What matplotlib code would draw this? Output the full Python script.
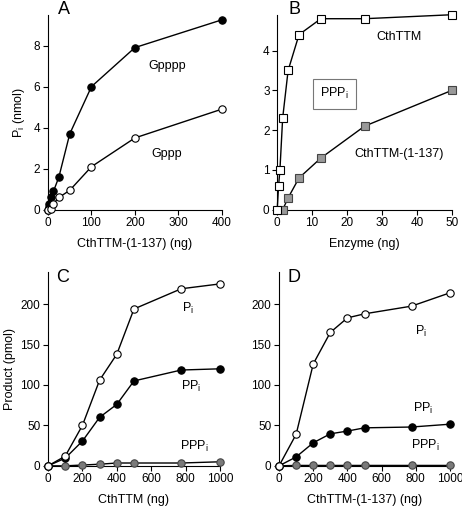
import matplotlib
matplotlib.use('Agg')
import matplotlib.pyplot as plt

plt.rcParams['font.family'] = ['Liberation Sans', 'DejaVu Sans']
plt.rcParams['mathtext.fontset'] = 'custom'
plt.rcParams['mathtext.rm'] = 'Liberation Sans'
plt.rcParams['mathtext.it'] = 'Liberation Sans'
plt.rcParams['font.size'] = 8.5

# Panel A: Pi released vs CthTTM-(1-137)
a_gpppp_x = [0, 1.56, 3.125, 6.25, 12.5, 25, 50, 100, 200, 400]
a_gpppp_y = [0, 0.15, 0.3, 0.6, 0.9, 1.6, 3.7, 6.0, 7.9, 9.25]
a_gppp_x = [0, 6.25, 12.5, 25, 50, 100, 200, 400]
a_gppp_y = [0, 0.02, 0.3, 0.6, 0.95, 2.1, 3.5, 4.9]

# Panel B: PPPi hydrolysis vs enzyme
b_full_x = [0, 0.39, 0.78, 1.56, 3.125, 6.25, 12.5, 25, 50]
b_full_y = [0, 0.6, 1.0, 2.3, 3.5, 4.4, 4.8, 4.8, 4.9]
b_trunc_x = [1.56, 3.125, 6.25, 12.5, 25, 50]
b_trunc_y = [0, 0.3, 0.8, 1.3, 2.1, 3.0]

# Panels C and D: products vs enzyme
cd_x = [0, 100, 200, 300, 400, 500, 775, 1000]
c_pi = [0, 12, 50, 106, 138, 194, 219, 225]
c_ppi = [0, 9.5, 30.6, 60, 76, 105, 118.5, 120]
c_pppi = [0, 0, 1, 2, 3.5, 3.5, 3.5, 5]
d_pi = [0, 39, 126, 165, 183, 188, 197.5, 214]
d_ppi = [0, 11, 28.5, 39.6, 43, 47, 48, 51.5]
d_pppi = [0, 0.5, 0.5, 0.5, 0.5, 0.5, 0.5, 0.5]

fig = plt.figure(figsize=(4.62, 5.08), dpi=100)
axA = fig.add_axes([0.104, 0.587, 0.376, 0.384])
axB = fig.add_axes([0.600, 0.587, 0.378, 0.384])
axC = fig.add_axes([0.104, 0.083, 0.372, 0.382])
axD = fig.add_axes([0.604, 0.083, 0.370, 0.382])

gray = '#999999'
open_c = dict(marker='o', mfc='white', mec='black', ms=5.3, mew=0.8)
fill_c = dict(marker='o', mfc='black', mec='black', ms=5.3, mew=0.8)
gray_c = dict(marker='o', mfc='#7a7a7a', mec='#444444', ms=5.3, mew=0.8)

for ax in (axA, axB, axC, axD):
    ax.spines['top'].set_visible(False)
    ax.spines['right'].set_visible(False)
    ax.spines['left'].set_linewidth(0.8)
    ax.spines['bottom'].set_linewidth(0.8)
    ax.tick_params(direction='out', length=3.5, width=0.8, labelsize=8.5, pad=2)

# A
axA.plot(a_gpppp_x, a_gpppp_y, color='black', lw=1, clip_on=False, zorder=3, **fill_c)
axA.plot(a_gppp_x, a_gppp_y, color='black', lw=1, clip_on=False, zorder=3, **open_c)
axA.set_xlim(0, 400)
axA.set_ylim(0, 9.5)
axA.set_xticks([0, 100, 200, 300, 400])
axA.set_yticks([0, 2, 4, 6, 8])
axA.set_xlabel('CthTTM-(1-137) (ng)', fontsize=9, labelpad=6)
axA.set_ylabel(r'P$_\mathrm{i}$ (nmol)', fontsize=9, labelpad=5)
axA.text(274, 7.0, 'Gpppp', ha='center', va='center', fontsize=9)
axA.text(274, 2.7, 'Gppp', ha='center', va='center', fontsize=9)
axA.text(0.092, 1.072, 'A', transform=axA.transAxes, ha='center', va='top', fontsize=13)

# B
axB.plot(b_trunc_x, b_trunc_y, color='black', lw=1, clip_on=False, zorder=3,
         marker='s', mfc=gray, mec='#444444', ms=5.5, mew=0.8)
axB.plot(b_full_x, b_full_y, color='black', lw=1, clip_on=False, zorder=4,
         marker='s', mfc='white', mec='black', ms=5.5, mew=0.8)
axB.set_xlim(0, 50)
axB.set_ylim(0, 4.9)
axB.set_xticks([0, 10, 20, 30, 40, 50])
axB.set_yticks([0, 1, 2, 3, 4])
axB.set_xlabel('Enzyme (ng)', fontsize=9, labelpad=6)
axB.text(34.8, 4.33, 'CthTTM', ha='center', va='center', fontsize=9)
axB.text(34.8, 1.41, 'CthTTM-(1-137)', ha='center', va='center', fontsize=9)
axB.text(16.4, 2.92, r'PPP$_\mathrm{i}$', ha='center', va='center', fontsize=9,
         bbox=dict(boxstyle='square,pad=0.6', fc='white', ec='#777777', lw=0.8))
axB.text(0.097, 1.072, 'B', transform=axB.transAxes, ha='center', va='top', fontsize=13)

# C and D
for ax, pi, ppi, pppi, xl, letter in ((axC, c_pi, c_ppi, c_pppi, 'CthTTM (ng)', 'C'),
                                       (axD, d_pi, d_ppi, d_pppi, 'CthTTM-(1-137) (ng)', 'D')):
    ax.plot(cd_x, pppi, color='black', lw=1, clip_on=False, zorder=3, **gray_c)
    ax.plot(cd_x, ppi, color='black', lw=1, clip_on=False, zorder=4, **fill_c)
    ax.plot(cd_x, pi, color='black', lw=1, clip_on=False, zorder=5, **open_c)
    ax.set_xlim(0, 1000)
    ax.set_ylim(0, 240)
    ax.set_xticks([0, 200, 400, 600, 800, 1000])
    ax.set_yticks([0, 50, 100, 150, 200])
    ax.set_xlabel(xl, fontsize=9, labelpad=6)
    ax.text(0.087, 0.97, letter, transform=ax.transAxes, ha='center', va='center', fontsize=13)

axC.set_ylabel('Product (pmol)', fontsize=9, labelpad=3)
axC.text(815, 195, r'P$_\mathrm{i}$', ha='center', va='center', fontsize=9)
axC.text(835, 98, r'PP$_\mathrm{i}$', ha='center', va='center', fontsize=9)
axC.text(850, 23.5, r'PPP$_\mathrm{i}$', ha='center', va='center', fontsize=9)
axD.text(830, 166, r'P$_\mathrm{i}$', ha='center', va='center', fontsize=9)
axD.text(840, 71, r'PP$_\mathrm{i}$', ha='center', va='center', fontsize=9)
axD.text(855, 25, r'PPP$_\mathrm{i}$', ha='center', va='center', fontsize=9)

fig.savefig('out.png', dpi=100)
